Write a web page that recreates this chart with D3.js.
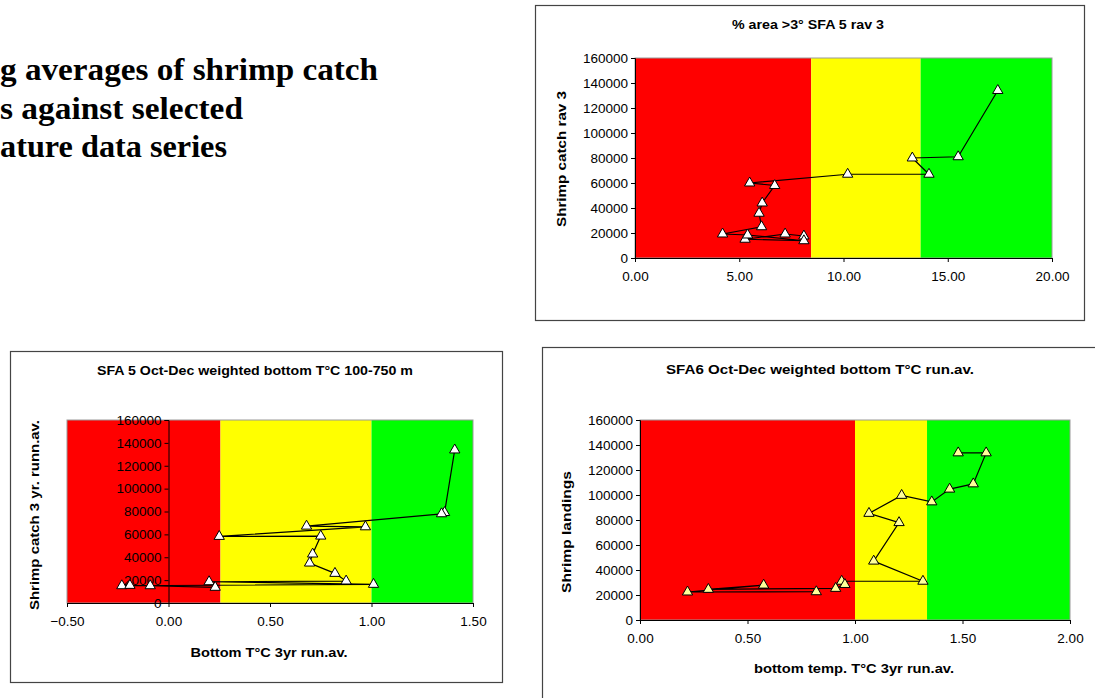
<!DOCTYPE html>
<html>
<head>
<meta charset="utf-8">
<script src="https://cdn.jsdelivr.net/npm/d3@7"></script>
<style>
    body { margin: 0; background: #fff; }
    svg text { font-family: "Liberation Sans", Arial, sans-serif; }
</style>
</head>
<body>
<svg id="slide"></svg>
<script>
const width = 1095,
      height = 698;

// slide heading (left part is cut off in the original)
const headingLines = ["g averages of shrimp catch", "s against selected", "ature data series"];
const headingWidths = [378, 243, 227];

// chart 1: % area >3° SFA 5
const c1Temp  = [8.1, 7.2, 5.28, 8.1, 5.4, 4.2, 6.07, 5.95, 6.1, 6.7, 5.5, 10.2, 14.1, 13.3, 15.5, 17.4];
const c1Catch = [17600, 19200, 15000, 13800, 18400, 19200, 25000, 35800, 44000, 58000, 60000, 67000, 67000, 80000, 81000, 134000];
const c1Zones = [0, 8.45, 13.7, 20];
const c1XTicks = [0, 5, 10, 15, 20];

// chart 2: SFA 5 Oct-Dec weighted bottom T
const c2Temp  = [1.41, 1.36, 1.345, 0.68, 0.97, 0.25, 0.75, 0.71, 0.695, 0.82, 0.875, 0.20, 1.01, -0.23, -0.19, -0.09, 0.23];
const c2Catch = [133800, 79100, 78000, 67200, 66600, 58200, 58500, 42800, 34900, 25900, 19200, 18600, 16300, 15100, 15400, 15100, 13700];
const c2Zones = [-0.5, 0.256, 1.0, 1.5];
const c2XTicks = [-0.5, 0, 0.5, 1.0, 1.5];

// chart 3: SFA6 Oct-Dec weighted bottom T
const c3Temp  = [1.48, 1.61, 1.55, 1.44, 1.357, 1.217, 1.065, 1.205, 1.087, 1.316, 0.938, 0.953, 0.91, 0.318, 0.575, 0.221, 0.82];
const c3Catch = [133700, 133700, 108900, 104700, 94500, 99700, 85300, 77900, 47100, 31000, 31000, 28400, 25300, 24500, 27900, 22400, 22600];
const c3Zones = [0, 1.0, 1.335, 2.0];
const c3XTicks = [0, 0.5, 1.0, 1.5, 2.0];

const yTicks = [0, 20000, 40000, 60000, 80000, 100000, 120000, 140000, 160000];
const zoneColors = ["#ff0000", "#ffff00", "#00ff00"];

const svg = d3.select("#slide").attr("width", width).attr("height", height);

// heading, Times-like bold
svg.selectAll("text.heading")
    .data(headingLines)
    .enter()
    .append("text")
    .attr("class", "heading")
    .attr("x", 0)
    .attr("y", (d, i) => 80 + i * 38.5)
    .attr("textLength", (d, i) => headingWidths[i])
    .attr("lengthAdjust", "spacingAndGlyphs")
    .style("font-family", "'Liberation Serif', 'Times New Roman', serif")
    .style("font-weight", "bold")
    .style("font-size", "31px")
    .text(d => d);

let drawChart = function (cfg) {
    const g = svg.append("g");

    // outer chart frame
    g.append("rect")
        .attr("x", cfg.frame[0] + 0.5).attr("y", cfg.frame[1] + 0.5)
        .attr("width", cfg.frame[2]).attr("height", cfg.frame[3])
        .attr("fill", "#fff").attr("stroke", "#444").attr("stroke-width", 1.2);

    const x = d3.scaleLinear().domain(cfg.xDomain).range([cfg.plot[0], cfg.plot[1]]);
    const y = d3.scaleLinear().domain([0, 160000]).range([cfg.plot[3], cfg.plot[2]]);

    // coloured zones
    g.selectAll("rect.zone")
        .data(d3.pairs(cfg.zones))
        .enter()
        .append("rect")
        .attr("class", "zone")
        .attr("x", d => x(d[0]))
        .attr("y", y(160000))
        .attr("width", d => x(d[1]) - x(d[0]))
        .attr("height", y(0) - y(160000))
        .attr("fill", (d, i) => zoneColors[i]);

    g.append("rect")
        .attr("x", x(cfg.xDomain[0])).attr("y", y(160000))
        .attr("width", x(cfg.xDomain[1]) - x(cfg.xDomain[0]))
        .attr("height", y(0) - y(160000))
        .attr("fill", "none").attr("stroke", "#999").attr("stroke-width", 1);

    // axes
    const xAxis = d3.axisBottom(x).tickValues(cfg.xTicks).tickFormat(d3.format(".2f")).tickSizeOuter(0).tickSize(4).tickPadding(9);
    const yAxis = d3.axisLeft(y).tickValues(yTicks).tickFormat(d3.format("d")).tickSizeOuter(0).tickSize(4).tickPadding(3);

    const xa = g.append("g").attr("transform", `translate(0,${y(0)})`).call(xAxis);
    const ya = g.append("g").attr("transform", `translate(${x(cfg.yAxisAt)},0)`).call(yAxis);
    [xa, ya].forEach(a => {
        a.select(".domain").attr("stroke", "#000");
        a.selectAll(".tick line").attr("stroke", "#000");
        a.selectAll("text").attr("fill", "#000").style("font-size", "13.5px").attr("font-family", null);
    });

    // series line + triangle markers
    const pts = cfg.xs.map((v, i) => [v, cfg.ys[i]]);
    g.append("path")
        .datum(pts)
        .attr("d", d3.line().x(d => x(d[0])).y(d => y(d[1])))
        .attr("fill", "none").attr("stroke", "#000").attr("stroke-width", 1.2);

    g.selectAll("path.marker")
        .data(pts)
        .enter()
        .append("path")
        .attr("class", "marker")
        .attr("transform", d => `translate(${x(d[0])},${y(d[1])})`)
        .attr("d", d3.symbol(d3.symbolTriangle, 46))
        .attr("fill", cfg.markerFill).attr("stroke", "#000").attr("stroke-width", 1);

    // titles
    g.append("text")
        .attr("x", cfg.title[1]).attr("y", cfg.title[2])
        .attr("text-anchor", "middle")
        .attr("textLength", cfg.title[3]).attr("lengthAdjust", "spacingAndGlyphs")
        .style("font-weight", "bold").style("font-size", "12.5px")
        .text(cfg.title[0]);

    if (cfg.xLabel) {
        g.append("text")
            .attr("x", cfg.xLabel[1]).attr("y", cfg.xLabel[2])
            .attr("text-anchor", "middle")
            .attr("textLength", cfg.xLabel[3]).attr("lengthAdjust", "spacingAndGlyphs")
            .style("font-weight", "bold").style("font-size", "13px")
            .text(cfg.xLabel[0]);
    }

    g.append("text")
        .attr("transform", `translate(${cfg.yLabel[1]},${cfg.yLabel[2]}) rotate(-90)`)
        .attr("text-anchor", "middle")
        .attr("textLength", cfg.yLabel[3]).attr("lengthAdjust", "spacingAndGlyphs")
        .style("font-weight", "bold").style("font-size", "13px")
        .text(cfg.yLabel[0]);
};

drawChart({
    frame: [535, 5, 549, 315],
    plot: [635, 1052, 58, 258],
    xDomain: [0, 20], yAxisAt: 0,
    zones: c1Zones, xTicks: c1XTicks,
    xs: c1Temp, ys: c1Catch,
    markerFill: "#fff",
    title: ["% area >3° SFA 5 rav 3", 808, 29, 152],
    xLabel: null,
    yLabel: ["Shrimp catch rav 3", 566, 159, 136]
});

drawChart({
    frame: [10, 351, 492, 331],
    plot: [67, 473, 420, 603],
    xDomain: [-0.5, 1.5], yAxisAt: 0,
    zones: c2Zones, xTicks: c2XTicks,
    xs: c2Temp, ys: c2Catch,
    markerFill: "#fff",
    title: ["SFA 5 Oct-Dec weighted bottom T°C 100-750 m", 255, 375, 316],
    xLabel: ["Bottom T°C 3yr run.av.", 269, 657, 157],
    yLabel: ["Shrimp catch 3 yr. runn.av.", 39, 515, 190]
});

drawChart({
    frame: [542, 347, 560, 360],
    plot: [640, 1070, 420, 620],
    xDomain: [0, 2], yAxisAt: 0,
    zones: c3Zones, xTicks: c3XTicks,
    xs: c3Temp, ys: c3Catch,
    markerFill: "#ffff99",
    title: ["SFA6 Oct-Dec weighted bottom T°C run.av.", 820, 374, 308],
    xLabel: ["bottom temp. T°C 3yr run.av.", 854, 673, 200],
    yLabel: ["Shrimp landings", 571, 532, 122]
});
</script>
</body>
</html>
